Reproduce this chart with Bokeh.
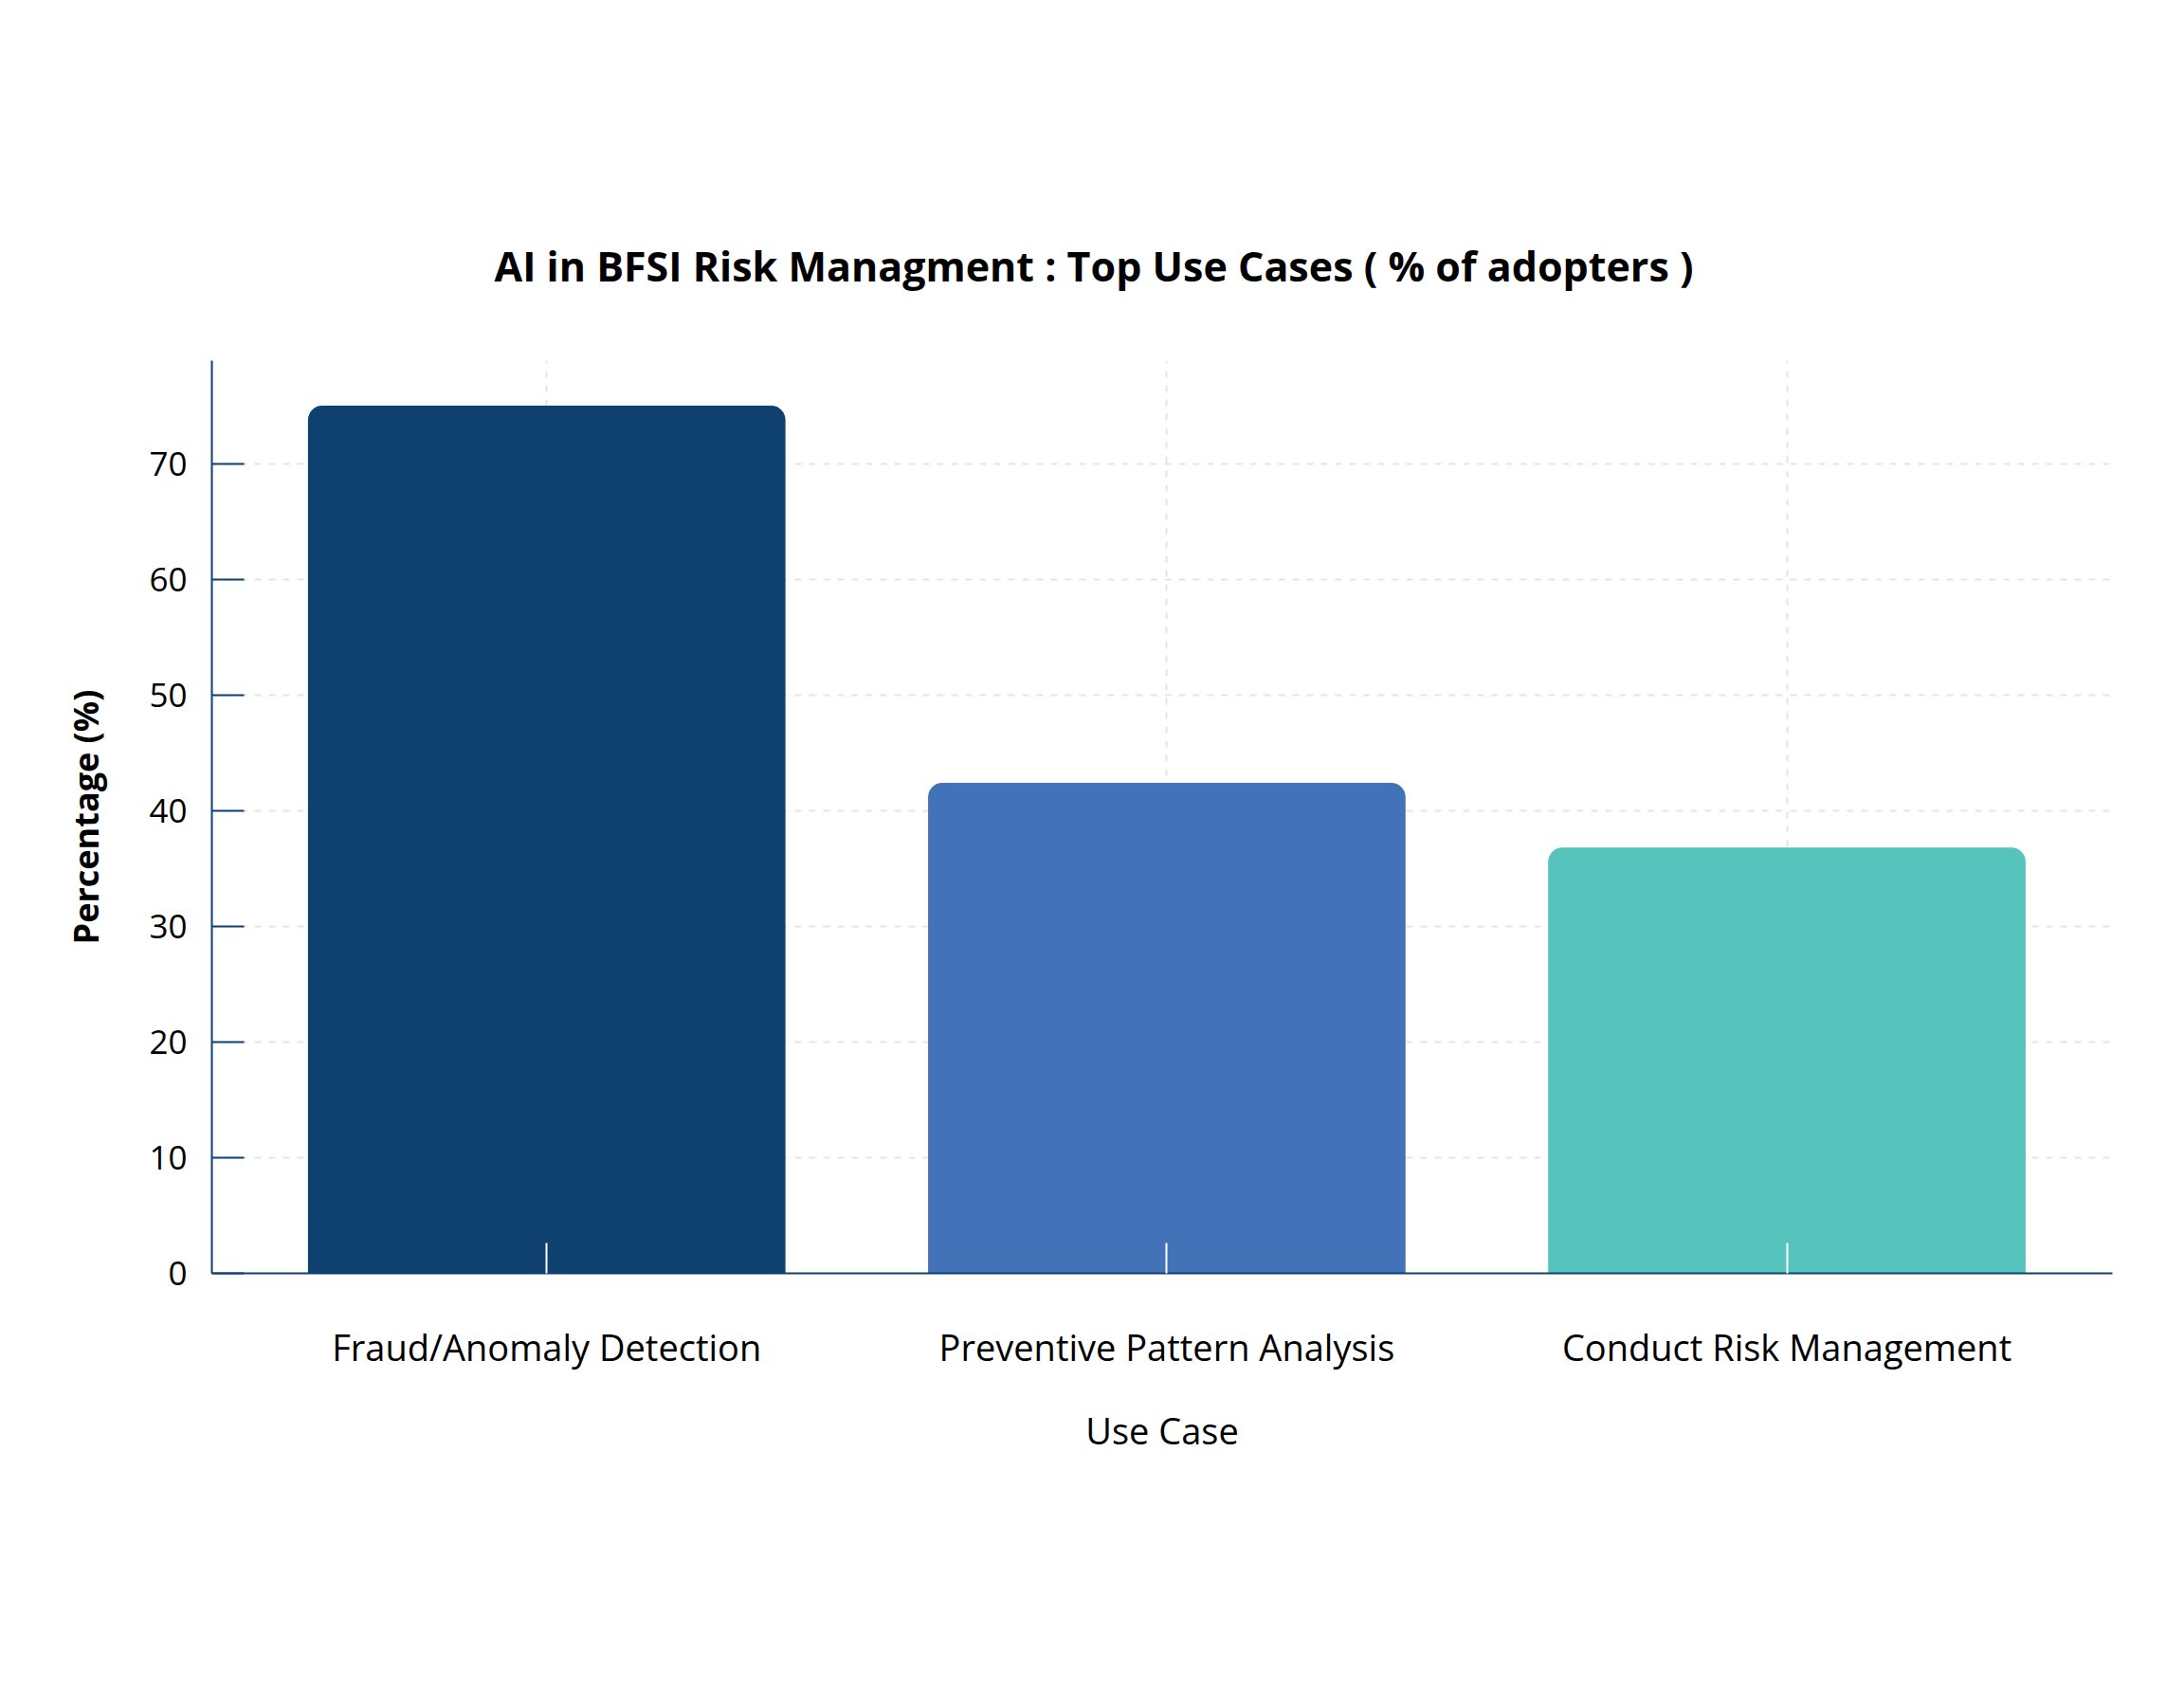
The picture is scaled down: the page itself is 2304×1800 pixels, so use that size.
from bokeh.plotting import figure
from bokeh.models import Range1d, FixedTicker, ColumnDataSource
from bokeh.embed import file_html
from bokeh.resources import INLINE

categories = ["Fraud/Anomaly Detection", "Preventive Pattern Analysis", "Conduct Risk Management"]
values = [75.0, 42.4, 36.8]
colors = ["#0F4170", "#4273B9", "#56C3BC"]
y_ticks = [0, 10, 20, 30, 40, 50, 60, 70]

title_text = "AI in BFSI Risk Managment : Top Use Cases ( % of adopters )"
x_label = "Use Case"
y_label = "Percentage (%)"

FONT = "Open Sans"
AXIS_COLOR = "#0F4170"
GRID_COLOR = "#e5e5e5"

xs = list(range(len(categories)))
src = ColumnDataSource(dict(x=xs, top=values, color=colors))

p = figure(width=2288, height=1784, output_backend="svg", toolbar_location=None,
           x_range=Range1d(-0.54, len(categories) - 1 + 0.525),
           y_range=Range1d(0, max(values) * 1.052),
           min_border_left=223, min_border_right=60,
           min_border_top=380, min_border_bottom=441)

p.vbar(x="x", top="top", bottom=0, width=0.77, color="color", source=src,
       line_color=None, border_radius=(15, 15, 0, 0))

p.title.text = title_text
p.title.text_font = FONT
p.title.text_font_style = "bold"
p.title.text_font_size = "43px"
p.title.text_color = "black"
p.title.align = "left"
p.title.offset = 298
p.title.standoff = 141

p.outline_line_color = None
p.background_fill_color = "white"
p.border_fill_color = "white"

# grids
for g in (p.xgrid, p.ygrid):
    g.grid_line_color = GRID_COLOR
    g.grid_line_dash = "7 8"
    g.grid_line_width = 2

# x axis
xa = p.xaxis[0]
xa.ticker = FixedTicker(ticks=xs)
xa.major_label_overrides = {i: c for i, c in zip(xs, categories)}
xa.major_label_text_font = FONT
xa.major_label_text_font_size = "38px"
xa.major_label_text_color = "black"
xa.major_label_standoff = 51
xa.axis_label = x_label
xa.axis_label_text_font = FONT
xa.axis_label_text_font_style = "normal"
xa.axis_label_text_font_size = "38px"
xa.axis_label_text_color = "black"
xa.axis_label_standoff = 33
xa.axis_line_color = AXIS_COLOR
xa.axis_line_width = 2
xa.major_tick_in = 32
xa.major_tick_out = 0
xa.major_tick_line_color = "white"
xa.major_tick_line_width = 2
xa.minor_tick_line_color = None

# y axis
ya = p.yaxis[0]
ya.ticker = FixedTicker(ticks=y_ticks)
ya.major_label_text_font = FONT
ya.major_label_text_font_size = "35px"
ya.major_label_text_color = "black"
ya.major_label_standoff = 26
ya.axis_label = y_label
ya.axis_label_text_font = FONT
ya.axis_label_text_font_style = "bold"
ya.axis_label_text_font_size = "36px"
ya.axis_label_text_color = "black"
ya.axis_label_standoff = 39
ya.axis_line_color = AXIS_COLOR
ya.axis_line_width = 2
ya.major_tick_in = 34
ya.major_tick_out = 0
ya.major_tick_line_color = AXIS_COLOR
ya.major_tick_line_width = 2
ya.minor_tick_line_color = None

open("out.html", "w").write(file_html(p, INLINE))
